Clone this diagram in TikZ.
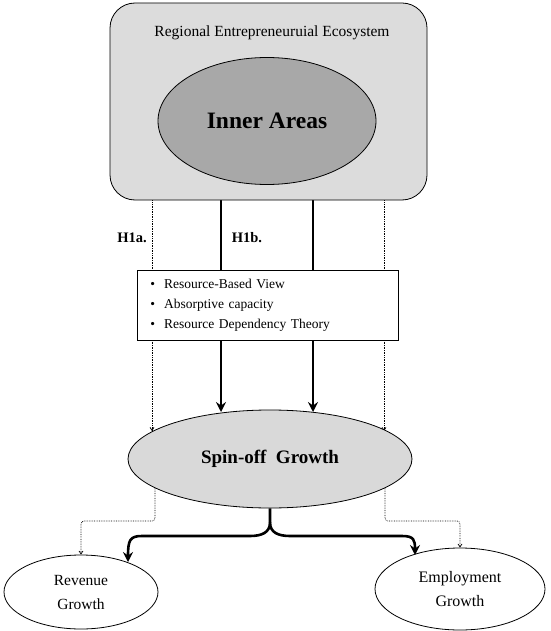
\documentclass[tikz,border=0pt]{standalone}
\usepackage{fontspec}
\setmainfont{Liberation Serif}
\usetikzlibrary{shapes.geometric,arrows.meta}
\pgfdeclarelayer{background}
\pgfdeclarelayer{canvas}
\pgfsetlayers{canvas,background,main}
\definecolor{ecofill}{HTML}{DCDCDC}
\definecolor{innerfill}{HTML}{A8A8A8}
\definecolor{spinfill}{HTML}{D9D9D9}
\begin{document}
\begin{tikzpicture}[x=1pt,y=-1pt,
  bigarrow/.style={line width=2.6pt,-{Stealth[length=10pt,width=10pt,inset=3.5pt]}},
  dotarrow/.style={line width=0.7pt,densely dotted,-{Straight Barb[length=3pt,width=4pt]}},
  oval/.style={ellipse,draw,line width=0.8pt,inner sep=0pt},
  hlabel/.style={font=\fontsize{14.5}{17}\selectfont\bfseries}
]
\useasboundingbox (0,0) rectangle (550,631);
\begin{pgfonlayer}{canvas}
\fill[white] (0,0) rectangle (550,631);
\end{pgfonlayer}
% nodes
\node (eco) [draw,line width=0.8pt,fill=ecofill,rounded corners=25pt,minimum width=317pt,minimum height=197pt,inner sep=0pt] at (268.5,101.5) {};
\node (ecotitle) [font=\fontsize{15.5}{18}\selectfont] at (272,33) {Regional Entrepreneuruial Ecosystem};
\node (inner) [oval,fill=innerfill,minimum width=218pt,minimum height=127pt,font=\fontsize{23.5}{28}\selectfont\bfseries] at (267,121) {Inner Areas};
\node (theory) [draw,line width=0.8pt,fill=white,anchor=north west,minimum height=70pt,text width=235pt,inner xsep=13pt,inner ysep=0pt,align=left,font=\fontsize{13.5}{20}\selectfont] at (137,270)
  {\textbullet\ \ Resource-Based View\\ \textbullet\ \ Absorptive capacity\\ \textbullet\ \ Resource Dependency Theory};
\node (spin) [oval,fill=spinfill,minimum width=284pt,minimum height=98pt,font=\fontsize{19}{22}\selectfont\bfseries] at (270,459) {Spin-off\ \ Growth};
\node (rev) [oval,fill=white,minimum width=154pt,minimum height=74pt,align=center,font=\fontsize{15.5}{24}\selectfont] at (81,592) {Revenue\\Growth};
\node (emp) [oval,fill=white,minimum width=170pt,minimum height=82pt,align=center,font=\fontsize{16}{24}\selectfont] at (460,589) {Employment\\Growth};
\node (h1a) [hlabel] at (132,238) {H1a.};
\node (h1b) [hlabel] at (247,238) {H1b.};
% free-end coordinates
\coordinate (tL) at (221,412);
\coordinate (tR) at (313,412);
\coordinate (dL) at (152,431);
\coordinate (dR) at (384,431);
\coordinate (sL) at (155,488);
\coordinate (sR) at (385,488);
\coordinate (bL) at (128,562);
\coordinate (bR) at (415,555);
\begin{pgfonlayer}{background}
\draw[bigarrow] (inner.center -| tL) -- (tL);
\draw[bigarrow] (inner.center -| tR) -- (tR);
\draw[dotarrow] (eco.south -| dL) -- (dL);
\draw[dotarrow] (eco.south -| dR) -- (dR);
\end{pgfonlayer}
% bottom brace
\draw[line width=2.6pt,-{Stealth[length=10pt,width=10pt,inset=3.5pt]}] (spin.south) -- ++(0,14) .. controls ++(0,10) and (262,536) .. (250,536) -- (142,536) .. controls (130,536) and (bL |- 0,540) .. (bL);
\draw[line width=2.6pt,-{Stealth[length=10pt,width=10pt,inset=3.5pt]}] (spin.south) ++(0,14) .. controls ++(0,10) and (278,536) .. (290,536) -- (402,536) .. controls (414,536) and (bR |- 0,540) .. (bR);
\draw[dotarrow,rounded corners=3pt] (sL) -- (sL |- 0,521) -- (rev.north |- 0,521) -- (rev.north);
\draw[dotarrow,rounded corners=3pt] (sR) -- (sR |- 0,521) -- (emp.north |- 0,521) -- (emp.north);
\end{tikzpicture}
\end{document}
